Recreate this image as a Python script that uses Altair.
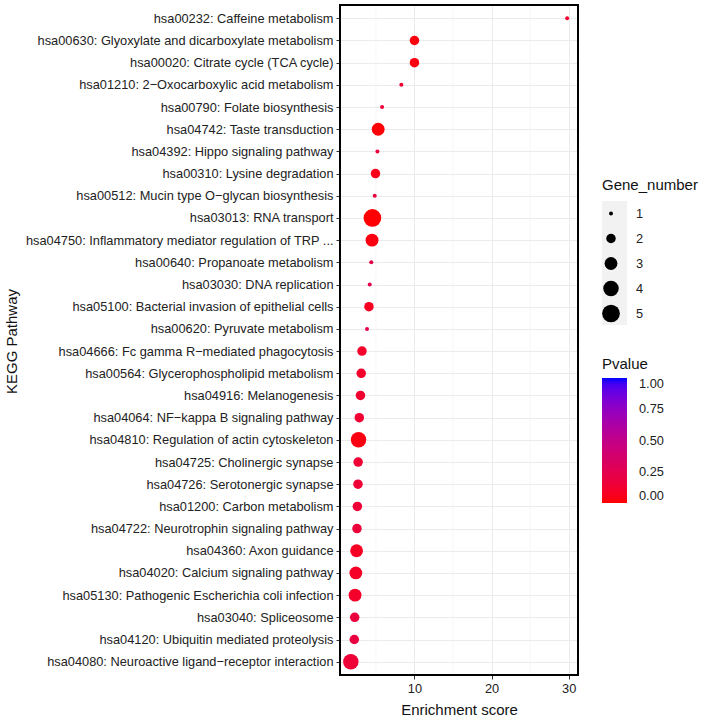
import altair as alt
import pandas as pd

pathways = [
    "hsa00232: Caffeine metabolism",
    "hsa00630: Glyoxylate and dicarboxylate metabolism",
    "hsa00020: Citrate cycle (TCA cycle)",
    "hsa01210: 2\u2212Oxocarboxylic acid metabolism",
    "hsa00790: Folate biosynthesis",
    "hsa04742: Taste transduction",
    "hsa04392: Hippo signaling pathway",
    "hsa00310: Lysine degradation",
    "hsa00512: Mucin type O\u2212glycan biosynthesis",
    "hsa03013: RNA transport",
    "hsa04750: Inflammatory mediator regulation of TRP ...",
    "hsa00640: Propanoate metabolism",
    "hsa03030: DNA replication",
    "hsa05100: Bacterial invasion of epithelial cells",
    "hsa00620: Pyruvate metabolism",
    "hsa04666: Fc gamma R\u2212mediated phagocytosis",
    "hsa00564: Glycerophospholipid metabolism",
    "hsa04916: Melanogenesis",
    "hsa04064: NF\u2212kappa B signaling pathway",
    "hsa04810: Regulation of actin cytoskeleton",
    "hsa04725: Cholinergic synapse",
    "hsa04726: Serotonergic synapse",
    "hsa01200: Carbon metabolism",
    "hsa04722: Neurotrophin signaling pathway",
    "hsa04360: Axon guidance",
    "hsa04020: Calcium signaling pathway",
    "hsa05130: Pathogenic Escherichia coli infection",
    "hsa03040: Spliceosome",
    "hsa04120: Ubiquitin mediated proteolysis",
    "hsa04080: Neuroactive ligand\u2212receptor interaction",
]
enrichment = [29.8, 10.0, 10.0, 8.3, 5.8, 5.3, 5.2, 4.95, 4.85, 4.55,
              4.5, 4.4, 4.2, 4.1, 3.85, 3.2, 3.1, 3.0, 2.85, 2.75,
              2.7, 2.68, 2.6, 2.55, 2.5, 2.4, 2.3, 2.25, 2.2, 1.75]
gene_number = [1, 2, 2, 1, 1, 3, 1, 2, 1, 5,
               3, 1, 1, 2, 1, 2, 2, 2, 2, 4,
               2, 2, 2, 2, 3, 3, 3, 2, 2, 4]
pvalue = [0.12, 0.02, 0.03, 0.13, 0.15, 0.01, 0.17, 0.05, 0.18, 0.005,
          0.03, 0.22, 0.23, 0.07, 0.25, 0.10, 0.11, 0.12, 0.13, 0.03,
          0.14, 0.15, 0.15, 0.16, 0.08, 0.09, 0.10, 0.18, 0.19, 0.15]
x_ticks = [10, 20, 30]
minor_breaks = [5, 15, 25]
p_ticks = [0, 0.25, 0.5, 0.75, 1.0]
size_ticks = [1, 2, 3, 4, 5]

df = pd.DataFrame({"Pathway": pathways, "Enrichment": enrichment,
                   "Gene_number": gene_number, "Pvalue": pvalue})
minor_df = pd.DataFrame({"m": minor_breaks})

lo, hi = min(enrichment), max(enrichment)
span = hi - lo
xdom = [lo - 0.05 * span, hi + 0.05 * span]
xscale = alt.Scale(domain=xdom, nice=False, zero=False)

FONT = "Liberation Sans"
LBL = 12.8
W, H = 238, 670

minor = alt.Chart(minor_df).mark_rule(color="#F2F2F2", strokeWidth=0.6).encode(
    x=alt.X("m:Q", scale=xscale)
)

key_bg = alt.Chart(minor_df.head(1)).mark_rect(color="#F2F2F2").encode(
    x=alt.value(262), x2=alt.value(287), y=alt.value(196), y2=alt.value(320)
)

frame = alt.Chart(minor_df.head(1)).mark_rect(
    fill=None, fillOpacity=0, stroke="black", strokeWidth=2
).encode(x=alt.value(0), x2=alt.value(W), y=alt.value(0), y2=alt.value(H))

points = alt.Chart(df).mark_circle(opacity=1).encode(
    x=alt.X("Enrichment:Q", scale=xscale,
            axis=alt.Axis(values=x_ticks, title="Enrichment score", grid=True,
                          gridColor="#EBEBEB", gridWidth=1, domain=False,
                          tickColor="#333333", tickSize=4, labelFontSize=LBL,
                          labelColor="#222222", titleFontSize=15,
                          titleFontWeight="normal", titleColor="#111111",
                          labelPadding=3, titlePadding=8, labelFont=FONT,
                          titleFont=FONT)),
    y=alt.Y("Pathway:N", sort=pathways,
            scale=alt.Scale(type="point", padding=0.6),
            axis=alt.Axis(title="KEGG Pathway", grid=True, gridColor="#EBEBEB",
                          gridWidth=1, domain=False, tickColor="#333333",
                          tickSize=4, labelFontSize=LBL, labelColor="#222222",
                          titleFontSize=15, titleFontWeight="normal",
                          titleColor="#111111", labelPadding=3,
                          titleX=-321, titleY=336,
                          labelFont=FONT, titleFont=FONT, labelLimit=400)),
    size=alt.Size("Gene_number:Q",
                  scale=alt.Scale(domain=[1, 5], range=[16, 314], zero=False),
                  legend=alt.Legend(title="Gene_number", orient="none",
                                    legendX=262, legendY=173,
                                    values=size_ticks,
                                    symbolFillColor="black",
                                    symbolStrokeColor="black",
                                    symbolStrokeWidth=0,
                                    symbolOpacity=1,
                                    titleFontSize=15, titleFontWeight="normal",
                                    titleColor="#111111", labelFontSize=LBL,
                                    labelColor="#222222", rowPadding=0,
                                    clipHeight=25,
                                    labelOffset=16, titlePadding=8,
                                    labelFont=FONT, titleFont=FONT,
                                    direction="vertical")),
    color=alt.Color("Pvalue:Q",
                    scale=alt.Scale(domain=[0, 1], range=["red", "blue"],
                                    interpolate="lab"),
                    legend=alt.Legend(title="Pvalue", orient="none",
                                      legendX=262, legendY=352,
                                      values=p_ticks, format=".2f",
                                      gradientLength=125,
                                      gradientThickness=25,
                                      gradientStrokeWidth=0,
                                      titleFontSize=15,
                                      titleFontWeight="normal",
                                      titleColor="#111111", labelFontSize=LBL,
                                      labelColor="#222222", labelOffset=12,
                                      labelBaseline="middle",
                                      labelOverlap=False,
                                      titlePadding=6, labelFont=FONT,
                                      titleFont=FONT, direction="vertical")),
)

chart = alt.layer(minor, key_bg, points, frame).properties(
    width=W, height=H,
    padding={"top": 4, "left": 4, "right": 5, "bottom": 5},
).configure(font=FONT).configure_view(stroke=None)

chart.save("out.html", embed_options={"renderer": "svg", "actions": False})
